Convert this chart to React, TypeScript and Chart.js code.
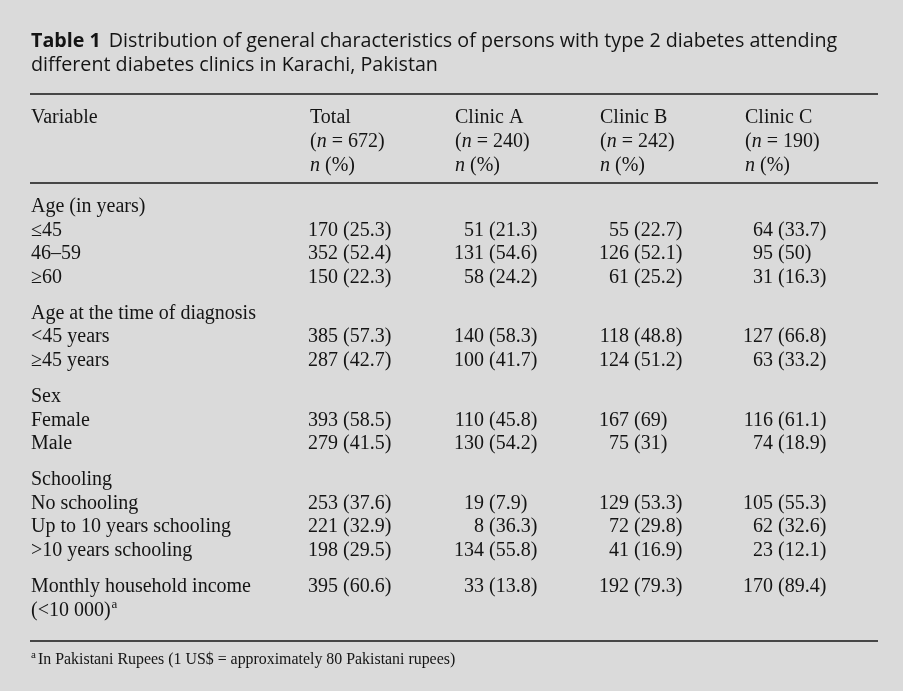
import { useEffect, useRef } from "react";
import { Chart, registerables } from "chart.js";
Chart.register(...registerables);

const W = 903;
const H = 691;

const titleBold = "Table 1";
const titleLine1 = "Distribution of general characteristics of persons with type 2 diabetes attending";
const titleLine2 = "different diabetes clinics in Karachi, Pakistan";
const variableHeader = "Variable";
const columnNames = ["Total", "Clinic A", "Clinic B", "Clinic C"];
const columnN = [672, 240, 242, 190];

const groupLabels = [
  "Age (in years)",
  "Age at the time of diagnosis",
  "Sex",
  "Schooling",
  "Monthly household income",
];
const rowLabels = [
  "≤45",
  "46–59",
  "≥60",
  "<45 years",
  "≥45 years",
  "Female",
  "Male",
  "No schooling",
  "Up to 10 years schooling",
  ">10 years schooling",
  "",
];
const rowGroup = [0, 0, 0, 1, 1, 2, 2, 3, 3, 3, 4];
const incomeNote = "(<10 000)";
const footnote = "In Pakistani Rupees (1 US$ = approximately 80 Pakistani rupees)";

const totalN = [170, 352, 150, 385, 287, 393, 279, 253, 221, 198, 395];
const totalPct = [25.3, 52.4, 22.3, 57.3, 42.7, 58.5, 41.5, 37.6, 32.9, 29.5, 60.6];
const clinicAN = [51, 131, 58, 140, 100, 110, 130, 19, 8, 134, 33];
const clinicAPct = [21.3, 54.6, 24.2, 58.3, 41.7, 45.8, 54.2, 7.9, 36.3, 55.8, 13.8];
const clinicBN = [55, 126, 61, 118, 124, 167, 75, 129, 72, 41, 192];
const clinicBPct = [22.7, 52.1, 25.2, 48.8, 51.2, 69, 31, 53.3, 29.8, 16.9, 79.3];
const clinicCN = [64, 95, 31, 127, 63, 116, 74, 105, 62, 23, 170];
const clinicCPct = [33.7, 50, 16.3, 66.8, 33.2, 61.1, 18.9, 55.3, 32.6, 12.1, 89.4];

const SERIF = '"Liberation Serif", "Times New Roman", serif';
const SANS = '"Open Sans", "Noto Sans", sans-serif';
const INK = "#141414";
const BG = "#dadada";

const tablePlugin = {
  id: "tablePlugin",
  beforeDraw(chart: any) {
    const ctx = chart.ctx;
    ctx.save();
    ctx.fillStyle = BG;
    ctx.fillRect(0, 0, chart.width, chart.height);
    ctx.restore();
  },
  afterDraw(chart: any) {
    const ctx: CanvasRenderingContext2D = chart.ctx;
    const xs = chart.scales.x;
    const ys = chart.scales.y;
    const X = (v: number) => xs.getPixelForValue(v);
    const Y = (v: number) => ys.getPixelForValue(v);

    const LEFT = 31;
    const RIGHT = 878;
    const colX = [310, 455, 600, 745];
    const parenX = [343, 489, 634, 778];
    const bodyFont = `20px ${SERIF}`;
    const italicFont = `italic 20px ${SERIF}`;

    ctx.save();
    ctx.fillStyle = INK;
    ctx.strokeStyle = INK;
    ctx.textBaseline = "alphabetic";
    ctx.textAlign = "left";

    // Title
    ctx.font = `bold 19.7px ${SANS}`;
    ctx.fillText(titleBold, X(LEFT), Y(47));
    const bw = ctx.measureText(titleBold).width;
    ctx.font = `19.7px ${SANS}`;
    ctx.fillText(titleLine1, X(LEFT) + bw + 8, Y(47));
    ctx.fillText(titleLine2, X(LEFT), Y(71));

    // Rules
    const rule = (y: number) => {
      ctx.beginPath();
      ctx.lineWidth = 1.3;
      ctx.moveTo(X(LEFT - 1), Y(y));
      ctx.lineTo(X(RIGHT), Y(y));
      ctx.stroke();
    };
    rule(94);
    rule(183);
    rule(641);

    // Header
    const hb = [122.5, 146.5, 170.5];
    ctx.font = bodyFont;
    ctx.fillText(variableHeader, X(LEFT), Y(hb[0]));
    columnNames.forEach((name, i) => {
      const x0 = X(colX[i]);
      ctx.font = bodyFont;
      ctx.fillText(name, x0, Y(hb[0]));
      let x = x0;
      ctx.fillText("(", x, Y(hb[1]));
      x += ctx.measureText("(").width;
      ctx.font = italicFont;
      ctx.fillText("n", x, Y(hb[1]));
      x += ctx.measureText("n").width;
      ctx.font = bodyFont;
      ctx.fillText(" = " + columnN[i] + ")", x, Y(hb[1]));
      ctx.font = italicFont;
      ctx.fillText("n", x0, Y(hb[2]));
      const nw = ctx.measureText("n").width;
      ctx.font = bodyFont;
      ctx.fillText(" (%)", x0 + nw, Y(hb[2]));
    });

    // Body
    const cols = [
      [totalN, totalPct],
      [clinicAN, clinicAPct],
      [clinicBN, clinicBPct],
      [clinicCN, clinicCPct],
    ];
    const step = 23.6;
    const groupGap = 36;
    let y = 212 - groupGap;
    const drawValues = (k: number, yy: number) => {
      ctx.font = bodyFont;
      const sp = ctx.measureText(" ").width;
      cols.forEach((c, i) => {
        ctx.textAlign = "right";
        ctx.fillText(String(c[0][k]), X(parenX[i]) - sp, Y(yy));
        ctx.textAlign = "left";
        ctx.fillText("(" + String(c[1][k]) + ")", X(parenX[i]), Y(yy));
      });
    };
    groupLabels.forEach((g, gi) => {
      y += groupGap;
      ctx.font = bodyFont;
      ctx.textAlign = "left";
      ctx.fillText(g, X(LEFT), Y(y));
      const ids = rowGroup.map((rg, k) => (rg === gi ? k : -1)).filter((k) => k >= 0);
      ids.forEach((k) => {
        if (rowLabels[k] === "") {
          drawValues(k, y);
          y += step;
          ctx.font = bodyFont;
          ctx.textAlign = "left";
          ctx.fillText(incomeNote, X(LEFT), Y(y));
          const w = ctx.measureText(incomeNote).width;
          ctx.font = `13px ${SERIF}`;
          ctx.fillText("a", X(LEFT) + w + 1, Y(y - 8));
        } else {
          y += step;
          ctx.font = bodyFont;
          ctx.textAlign = "left";
          ctx.fillText(rowLabels[k], X(LEFT), Y(y));
          drawValues(k, y);
        }
      });
    });

    // Footnote
    ctx.textAlign = "left";
    ctx.font = `11px ${SERIF}`;
    ctx.fillText("a", X(LEFT), Y(658));
    ctx.font = `15.9px ${SERIF}`;
    ctx.fillText(footnote, X(LEFT + 7), Y(664));

    ctx.restore();
  },
};

export default function App() {
  const ref = useRef<HTMLCanvasElement | null>(null);
  useEffect(() => {
    if (!ref.current) return;
    const chart = new Chart(ref.current, {
      type: "scatter",
      data: { datasets: [] },
      options: {
        responsive: false,
        animation: false,
        layout: { padding: 0 },
        scales: {
          x: { type: "linear", min: 0, max: W, display: false },
          y: { type: "linear", min: 0, max: H, reverse: true, display: false },
        },
        plugins: { legend: { display: false }, tooltip: { enabled: false } },
      },
      plugins: [tablePlugin],
    } as any);
    return () => chart.destroy();
  }, []);
  return (
    <div style={{ position: "fixed", left: 0, top: 0, width: W, height: H, background: BG }}>
      <canvas ref={ref} width={W} height={H} style={{ display: "block" }} />
    </div>
  );
}
